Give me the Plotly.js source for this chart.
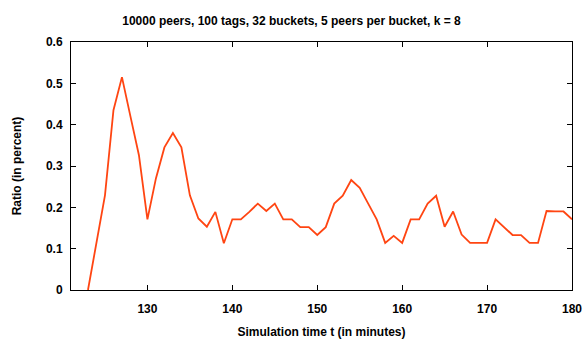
<!DOCTYPE html>
<html>
<head>
<meta charset="utf-8">
<script src="https://cdn.plot.ly/plotly-3.0.1.min.js"></script>
<style>
  html, body { margin: 0; padding: 0; background: #fff; }
  #chart { width: 583px; height: 340px; }
</style>
</head>
<body>
<div id="chart"></div>
<script>
// Simulation time in minutes (one sample per minute)
const minutes = [
  123, 124, 125, 126, 127, 128, 129, 130, 131, 132,
  133, 134, 135, 136, 137, 138, 139, 140, 141, 142,
  143, 144, 145, 146, 147, 148, 149, 150, 151, 152,
  153, 154, 155, 156, 157, 158, 159, 160, 161, 162,
  163, 164, 165, 166, 167, 168, 169, 170, 171, 172,
  173, 174, 175, 176, 177, 178, 179, 180
];

// Ratio (in percent) at each sample
const ratio = [
  0.000, 0.112, 0.229, 0.435, 0.515, 0.420, 0.326, 0.171, 0.270, 0.345,
  0.380, 0.345, 0.229, 0.173, 0.153, 0.189, 0.113, 0.171, 0.171, 0.189,
  0.209, 0.191, 0.209, 0.171, 0.171, 0.152, 0.152, 0.133, 0.152, 0.209,
  0.228, 0.266, 0.247, 0.209, 0.171, 0.114, 0.131, 0.114, 0.171, 0.171,
  0.209, 0.228, 0.153, 0.190, 0.134, 0.114, 0.114, 0.114, 0.171, 0.152,
  0.133, 0.133, 0.114, 0.114, 0.191, 0.190, 0.190, 0.171
];

const xTicks = [130, 140, 150, 160, 170, 180];
const yTicks = [0, 0.1, 0.2, 0.3, 0.4, 0.5, 0.6];
const yTickText = ['0', '0.1', '0.2', '0.3', '0.4', '0.5', '0.6'];

const font = { family: 'Liberation Sans, Arial, sans-serif', size: 12, color: '#000', weight: 'bold' };

const trace = {
  x: minutes,
  y: ratio,
  type: 'scatter',
  mode: 'lines',
  line: { color: '#ff4512', width: 1.8 },
  hoverinfo: 'skip'
};

const axisCommon = {
  showgrid: false,
  zeroline: false,
  showline: true,
  linecolor: '#000',
  linewidth: 1,
  mirror: 'ticks',
  ticks: 'inside',
  ticklen: 5,
  tickwidth: 1,
  tickcolor: '#000',
  tickfont: font
};

const layout = {
  width: 583,
  height: 340,
  margin: { l: 71, r: 11, t: 42, b: 50 },
  paper_bgcolor: '#fff',
  plot_bgcolor: '#fff',
  showlegend: false,
  font: font,
  title: {
    text: '10000 peers, 100 tags, 32 buckets, 5 peers per bucket, k = 8',
    font: font,
    x: 0.5,
    xref: 'container',
    xanchor: 'center',
    y: 0.952,
    yref: 'container'
  },
  xaxis: Object.assign({}, axisCommon, {
    range: [121, 180],
    tickvals: xTicks,
    ticktext: xTicks.map(String),
    ticklabelstandoff: 8,
    title: { text: 'Simulation time t (in minutes)', font: font, standoff: 12 }
  }),
  yaxis: Object.assign({}, axisCommon, {
    range: [0, 0.6],
    tickvals: yTicks,
    ticktext: yTickText,
    ticklabelstandoff: 5,
    title: { text: 'Ratio (in percent)', font: font, standoff: 21 }
  })
};

Plotly.newPlot('chart', [trace], layout, { staticPlot: true, displayModeBar: false });
</script>
</body>
</html>
